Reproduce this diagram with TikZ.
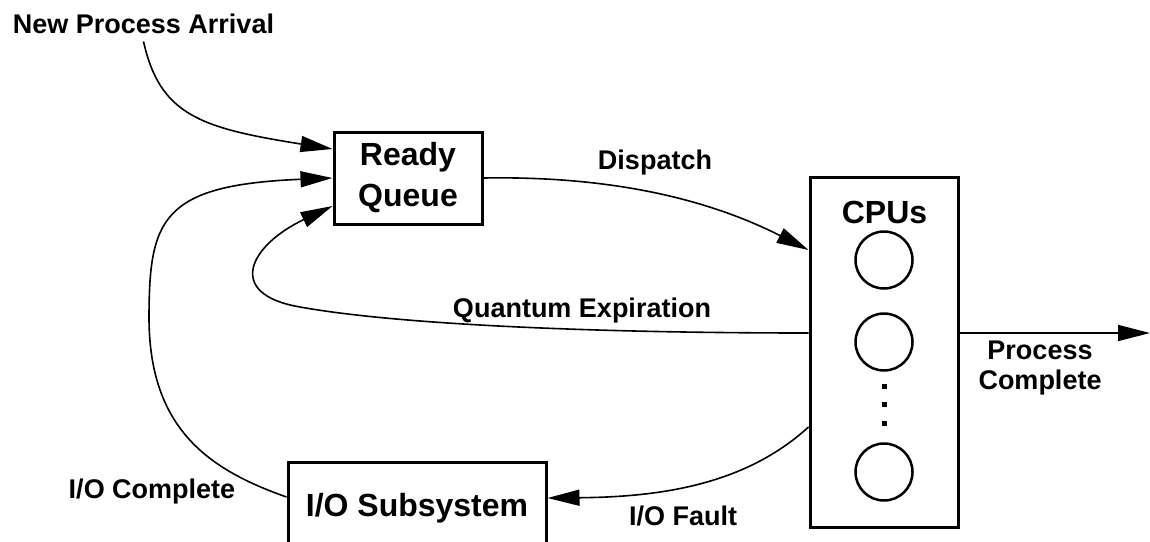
\documentclass[tikz,border=0pt]{standalone}
\usepackage{fontspec}
\setmainfont{Liberation Sans}
\usetikzlibrary{arrows.meta,calc}
\begin{document}
\begin{tikzpicture}[x=1pt,y=-1pt,
  box/.style={draw,line width=3pt,minimum width=148pt,minimum height=92pt,inner sep=0pt,
              align=center,font=\bfseries\fontsize{32}{41}\selectfont},
  lbl/.style={font=\bfseries\fontsize{27}{30}\selectfont,inner sep=0pt,align=center},
  big/.style={font=\bfseries\fontsize{32}{41}\selectfont,inner sep=0pt},
  flow/.style={line width=1.6pt,-{Triangle[length=32pt,width=16pt]}},
  cpucore/.style={draw,circle,line width=2.5pt,minimum size=57pt,inner sep=0pt},
  dot/.style={fill,minimum size=5pt,inner sep=0pt}
]
\clip (0,0) rectangle (1150,541);

% boxes
\node[box] (rq) at (408,178) {Ready\\Queue};
\node[box,minimum height=350pt] (cpu) at (884,352) {};
\node[box,minimum width=258pt] (io) at (417,508) {I/O Subsystem};

% processors inside the CPU box
\node[big,anchor=base] (cpus) at (884.5,223) {CPUs};
\node[cpucore] (c1) at (884,260) {};
\node[cpucore] (c2) at (884,342) {};
\node[cpucore] (c3) at (884,472) {};
\node[dot] (d1) at (884,386) {};
\node[dot] (d2) at (884,404) {};
\node[dot] (d3) at (884,423) {};

% labels
\node[lbl,anchor=base] (arr) at (143.5,33) {New Process Arrival};
\node[lbl,anchor=base] (disp) at (655,169) {Dispatch};
\node[lbl,anchor=base] (quant) at (582,317) {Quantum Expiration};
\node[lbl] (pc) at (1040,368) {Process\\Complete};
\node[lbl,anchor=base] (iof) at (683,525) {I/O Fault};
\node[lbl,anchor=base] (ioc) at (152,498) {I/O Complete};

\coordinate (exit) at (1150,333);

% connectors
\draw[flow] ($(arr.south)+(0,8)$) .. controls (160,115) and (200,128) .. ($(rq.west)+(0,-29)$);
\draw[flow] (rq.east) .. controls (600,176) and (700,195) .. ($(cpu.west)+(0,-102)$);
\draw[flow] ($(cpu.west)+(0,-19)$) .. controls (600,333) and (400,325) .. (300,307)
            .. controls (224,294) and (250,245) .. ($(rq.west)+(0,28)$);
\draw[flow] ($(io.west)+(0,-11)$) .. controls (210,470) and (150,430) .. (149,320)
            .. controls (149,220) and (160,185) .. (rq.west);
\draw[flow] ($(cpu.west)+(0,75)$) .. controls (745,485) and (660,497) .. ($(io.east)+(0,-10)$);
\draw[flow] ($(cpu.east)+(0,-19)$) -- (exit);
\end{tikzpicture}
\end{document}
